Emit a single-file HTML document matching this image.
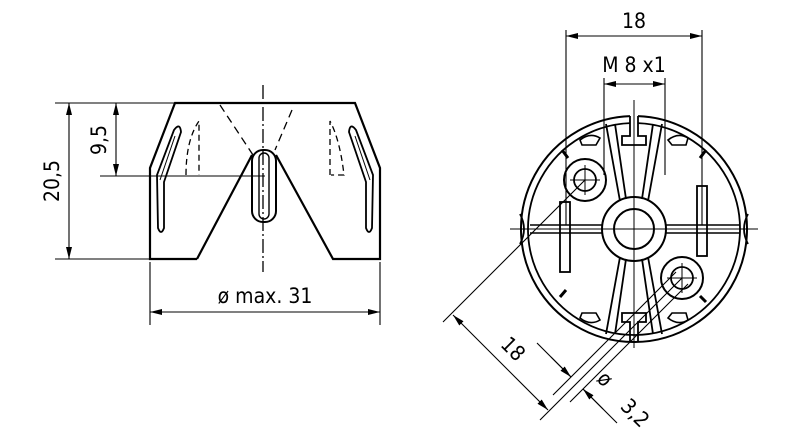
<!DOCTYPE html>
<html><head><style>html,body{margin:0;padding:0;background:#fff}svg{display:block}</style></head>
<body>
<svg width="800" height="434" viewBox="0 0 800 434" xmlns="http://www.w3.org/2000/svg" font-family="DejaVu Sans Condensed, DejaVu Sans, Liberation Sans, sans-serif">
<defs>
<marker id="a" viewBox="0 0 12 6" refX="12" refY="3" markerWidth="12" markerHeight="6" orient="auto-start-reverse" markerUnits="userSpaceOnUse"><path d="M0,0L12,3L0,6z" fill="#000"/></marker>
</defs>
<g fill="none" stroke="#000" stroke-width="1.3">
<path d="M197,259 H150 V168 L175,103 H355 L380,168 V259 H333 L276,155" stroke-width="2.2"/>
<path d="M252,155 L197,259" stroke-width="2.2"/>
<rect x="252" y="150" width="24" height="72" rx="11" stroke-width="2"/>
<rect x="259" y="153" width="10" height="66" rx="5" stroke-width="1.4"/>
<path d="M157,175 L174,130 Q180,122 181,132 L164,182 V228 Q161,236 158,228 Z" stroke-width="1.8"/>
<path d="M160,180 L175,136" stroke-width="1"/>
<path d="M373,175 L356,130 Q350,122 349,132 L366,182 V228 Q369,236 372,228 Z" stroke-width="1.8"/>
<path d="M370,180 L355,136" stroke-width="1"/>
<path d="M186,175 Q186,140 199,121 V175" stroke-dasharray="6,4"/>
<path d="M330,175 V121 Q340,140 344,175 H331" stroke-dasharray="6,4"/>
<path d="M220,105 L253,155 M292,110 L275,150" stroke-dasharray="8,5"/>
<path d="M263,85 V272" stroke-dasharray="14,3,2,3"/>
<path d="M55,103 H175 M55,259 H150 M100,176 H265" stroke-width="1.1"/>
<path d="M69,103 V259" marker-start="url(#a)" marker-end="url(#a)" stroke-width="1.1"/>
<path d="M116,103 V176" marker-start="url(#a)" marker-end="url(#a)" stroke-width="1.1"/>
<path d="M150,262 V325 M380,262 V325" stroke-width="1.1"/>
<path d="M150,312 H380" marker-start="url(#a)" marker-end="url(#a)" stroke-width="1.1"/>

<path d="M630,116.1 A113,113 0 1,0 638,116.1" stroke-width="2"/>
<path d="M630,123.1 A106,106 0 1,0 638,123.1" stroke-width="1.8"/>
<path d="M520,214 Q528,229 520,244 M748,214 Q740,229 748,244" stroke-width="1.8"/>
<circle cx="634" cy="229" r="32" stroke-width="2"/>
<circle cx="634" cy="229" r="20" stroke-width="2"/>
<path d="M620,201 L606,124 M626,199 L615,124 M648,201 L662,124 M642,199 L653,124 M620,257 L606,334 M626,259 L615,334 M648,257 L662,334 M642,259 L653,334" stroke-width="1.8"/>
<path d="M530,225 H602 M530,233 H602 M666,225 H740 M666,233 H740" stroke-width="1.5"/>
<path d="M630,116 V136 H622 V145 H646 V136 H638 V116" stroke-width="1.8"/>
<path d="M630,342 V322 H622 V313 H646 V322 H638 V342" stroke-width="1.8"/>
<circle cx="585" cy="180" r="21" stroke-width="2"/>
<circle cx="585" cy="180" r="11" stroke-width="1.8"/>
<path d="M570,180 H600 M585,165 V195" stroke-width="1"/>
<circle cx="682" cy="278" r="21" stroke-width="2"/>
<circle cx="682" cy="278" r="11" stroke-width="1.8"/>
<path d="M667,278 H697 M682,263 V293" stroke-width="1"/>
<rect x="560" y="202" width="10" height="70" stroke-width="1.8"/>
<rect x="697" y="186" width="10" height="70" stroke-width="1.8"/>
<path d="M562,150 L568,158 M706,150 L700,158 M560,297 L566,290 M706,302 L700,296" stroke-width="3"/>
<path d="M580,140 Q590,132 600,138 L596,145 H582 Z M688,138 Q678,132 668,140 L672,145 H686 Z M580,318 Q590,326 600,320 L596,313 H582 Z M688,320 Q678,326 668,318 L672,313 H686 Z" stroke-width="1.6"/>
<path d="M510,229 H758 M634,100 V348" stroke-width="1"/>
<path d="M566,30 V225 M702,30 V225 M604,78 V175 M665,78 V175" stroke-width="1.1"/>
<path d="M566,36 H702" marker-start="url(#a)" marker-end="url(#a)" stroke-width="1.1"/>
<path d="M604,84 H665" marker-start="url(#a)" marker-end="url(#a)" stroke-width="1.1"/>
<path d="M585,180 L443,322 M682,278 L540,420 M676,272 L553,395 M688,284 L570,402" stroke-width="1.1"/>
<path d="M453,315 L548,410" marker-start="url(#a)" marker-end="url(#a)" stroke-width="1.1"/>
<path d="M537,343 L571,377 M583,389 L617,423" stroke-width="1.1"/>
<path d="M551,357 L571,377" marker-end="url(#a)" stroke-width="1.1"/>
<path d="M603,409 L583,389" marker-end="url(#a)" stroke-width="1.1"/>
</g>
<g font-size="21" fill="#000">
<text x="634" y="28" text-anchor="middle">18</text>
<text x="634" y="72" text-anchor="middle">M 8 x1</text>
<text x="265" y="303" text-anchor="middle">ø  max. 31</text>
<text transform="translate(59,181) rotate(-90)" text-anchor="middle">20,5</text>
<text transform="translate(106,140) rotate(-90)" text-anchor="middle">9,5</text>
<text transform="translate(508,354) rotate(45)" text-anchor="middle">18</text>
<text transform="translate(600,384) rotate(45)" text-anchor="middle">ø</text>
<text transform="translate(630,418) rotate(45)" text-anchor="middle">3,2</text>
</g>
</svg>
</body></html>
